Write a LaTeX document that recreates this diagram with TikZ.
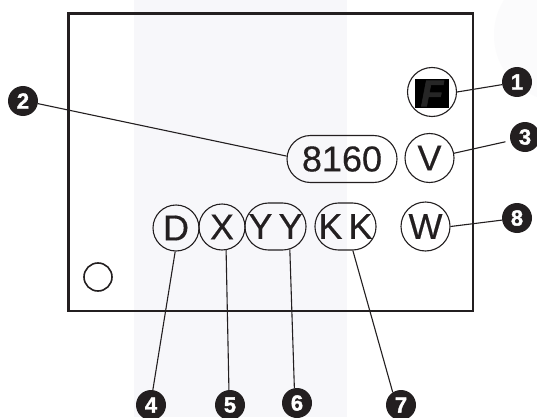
\documentclass[tikz,border=0pt]{standalone}
\usepackage{fontspec}
\setmainfont{Liberation Sans}
\newfontfamily\lampfont[FakeBold=0.4]{Liberation Sans}
\newfontfamily\ballfont[FakeBold=1.6]{Liberation Sans Bold}
\newfontfamily\logofont[FakeBold=1.5]{Liberation Sans Bold Italic}
\usetikzlibrary{shapes.misc}
\definecolor{band}{HTML}{F7F7FA}
\definecolor{faint}{HTML}{FBFBFC}
\definecolor{ink}{HTML}{231F20}
\definecolor{logoink}{HTML}{262626}
\tikzset{
  x=1pt,y=-1pt,
  frameline/.style={draw=ink,line width=2.4pt},
  lead/.style={draw=ink,line width=1.1pt},
  lamp/.style={draw=ink,line width=1.1pt,circle,inner sep=0pt,minimum size=49pt,font=\lampfont\fontsize{36}{36}\selectfont,text=ink},
  lampwide/.style={draw=ink,line width=1.1pt,rounded rectangle,inner sep=0pt,minimum height=47pt,font=\lampfont\fontsize{36}{36}\selectfont,text=ink},
  ball/.style={circle,fill=ink,text=white,inner sep=0pt,minimum size=30pt,font=\ballfont\fontsize{22}{22}\selectfont}
}
\begin{document}
\begin{tikzpicture}
\useasboundingbox (0,0) rectangle (537,417);
\fill[white] (0,0) rectangle (537,417);
\fill[band] (134,0) rectangle (346.5,417);
\clip (0,0) rectangle (537,417);
\fill[faint] (560,35) circle (66);
\draw[frameline] (68.5,13.5) rectangle (473,311);
\node[draw=ink,line width=1.6pt,circle,inner sep=0pt,minimum size=28pt] (small) at (98,277) {};
% lamps
\node[lamp] (f) at (432,92) {};
\node[fill=black,inner sep=0pt,minimum width=34pt,minimum height=29pt,text=logoink,font=\logofont\fontsize{37}{37}\selectfont] (flogo) at (432,93.5) {F};
\node[lampwide,minimum width=110pt] (num) at (342,159) {8160};
\node[lamp] (v) at (429.5,158) {V};
\node[lamp] (w) at (425.5,226.5) {W};
\node[lamp,minimum size=46pt] (d) at (176,228) {D};
\node[lamp,minimum size=46pt] (x) at (222,227) {X};
\node[lampwide,minimum width=61pt] (yy) at (275.5,226.5) {Y\,Y};
\node[lampwide,minimum width=61pt] (kk) at (345.5,226.5) {K\,K};
% balls
\node[ball] (b1) at (517,82) {1};
\node[ball] (b2) at (23,101) {2};
\node[ball] (b3) at (525,137) {3};
\node[ball] (b4) at (151,405) {4};
\node[ball] (b5) at (230,405) {5};
\node[ball] (b6) at (297,403) {6};
\node[ball] (b7) at (401,405) {7};
\node[ball] (b8) at (517,218) {8};
% leaders
\draw[lead] (f.0) -- (b1.190);
\draw[lead] (num.177) -- (b2.-10);
\draw[lead,shorten >=5pt] (v.11) -- (b3.194);
\draw[lead] (d.-92) -- (b4.83);
\draw[lead] (x.-80) -- (b5.94);
\draw[lead] (yy.-58) -- (b6.100);
\draw[lead] (kk.-73) -- (b7.123);
\draw[lead] (w.0) -- (b8.188);
\end{tikzpicture}
\end{document}
